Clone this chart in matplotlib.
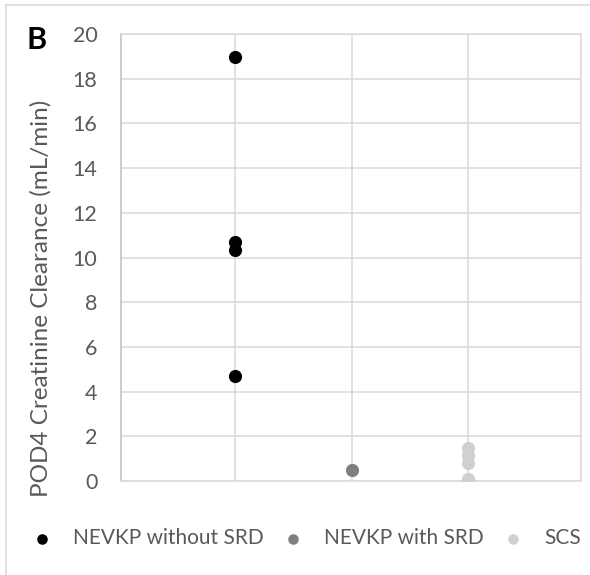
import matplotlib.pyplot as plt
from matplotlib.lines import Line2D

plt.rcParams['font.family'] = ['Lato', 'DejaVu Sans']

# data
groups = ['NEVKP without SRD', 'NEVKP with SRD', 'SCS']
xpos = [1, 2, 3]
values = [
    [18.95, 10.7, 10.35, 4.7],
    [0.5],
    [1.48, 1.15, 0.8, 0.1],
]
colors = ['#000000', '#7f7f7f', '#d0d0d0']
yticks = list(range(0, 21, 2))

fig = plt.figure(figsize=(5.9, 5.75), dpi=100)
ax = fig.add_axes([121 / 590, 1 - 481 / 575, 460 / 590, 447 / 575])

for name, x, vals, c in zip(groups, xpos, values, colors):
    ax.scatter([x] * len(vals), vals, s=90, color=c, label=name, zorder=3, linewidths=0)

ax.set_xlim(0.02, 3.97)
ax.set_ylim(0, 20)
ax.set_yticks(yticks)
ax.set_xticks(xpos)
ax.set_xticklabels([])
ax.tick_params(axis='both', length=0, labelsize=15.5, labelcolor='#595959', pad=17)
ax.grid(True, color='#d9d9d9', linewidth=1.1, zorder=0)
ax.set_axisbelow(True)
for side in ['top', 'right', 'bottom']:
    ax.spines[side].set_color('#d9d9d9')
    ax.spines[side].set_linewidth(1.1)
ax.spines['left'].set_color('#bfbfbf')
ax.spines['left'].set_linewidth(1.1)

fig.text(41 / 590, 1 - 298 / 575, 'POD4 Creatinine Clearance (mL/min)', fontsize=17.5,
         color='#595959', rotation=90, ha='center', va='center')

ax.legend(loc='center', bbox_to_anchor=(306 / 590, 1 - 538 / 575), bbox_transform=fig.transFigure,
          ncol=3, frameon=False, fontsize=15, labelcolor='#595959', markerscale=0.8,
          handletextpad=1.0, columnspacing=0.9, handlelength=1.0)

fig.text(37 / 590, 1 - 40 / 575, 'B', fontsize=22, fontweight='bold', ha='center', va='center')

# outer chart frame (left and top edges visible)
fig.add_artist(Line2D([6 / 590, 6 / 590], [0, 1 - 5 / 575], transform=fig.transFigure, color='#d9d9d9', lw=1.1))
fig.add_artist(Line2D([6 / 590, 1], [1 - 5 / 575, 1 - 5 / 575], transform=fig.transFigure, color='#d9d9d9', lw=1.1))

fig.savefig('out.png', dpi=100)
